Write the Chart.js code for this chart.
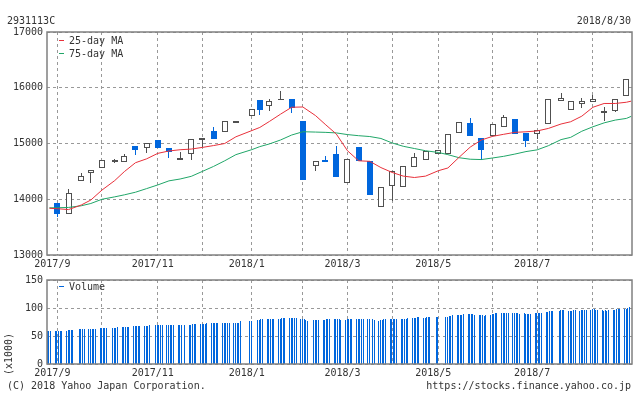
<!DOCTYPE html>
<html><head><meta charset="utf-8">
<script src="https://cdn.jsdelivr.net/npm/chart.js@4.4.0/dist/chart.umd.min.js"></script>
<style>
html,body{margin:0;padding:0;background:#fff;overflow:hidden;}
#wrap{position:relative;width:634px;height:394px;overflow:hidden;font-family:"DejaVu Sans Mono",monospace;font-size:10px;color:#333;}
.t{position:absolute;line-height:12px;white-space:nowrap;}
.sw{position:absolute;width:5px;height:1px;}
canvas{position:absolute;left:0;}
</style></head><body>
<div id="wrap">
<canvas id="main" width="634" height="275" style="top:0;width:634px;height:275px"></canvas>
<canvas id="vol" width="634" height="110" style="top:270px;width:634px;height:110px"></canvas>
<div class="t" style="left:7px;top:15px">2931113C</div>
<div class="t" style="right:3px;top:15px">2018/8/30</div>
<div class="sw" style="left:59px;top:40px;background:rgb(232,48,58)"></div>
<div class="t" style="left:69px;top:35px">25-day MA</div>
<div class="sw" style="left:59px;top:53px;background:rgb(32,166,104)"></div>
<div class="t" style="left:69px;top:48px">75-day MA</div>
<div class="sw" style="left:59px;top:286px;background:#0066dd"></div>
<div class="t" style="left:69px;top:281px">Volume</div>
<div class="t" style="left:9px;top:354px;transform:translate(-50%,-50%) rotate(-90deg)">(x1000)</div>
<div class="t" style="left:7px;top:380px">(C) 2018 Yahoo Japan Corporation.</div>
<div class="t" style="right:3px;top:380px">https://stocks.finance.yahoo.co.jp</div>
</div>
<script>
// ---- weekly candles ----
const candleDates = ['2017-09-04','2017-09-11','2017-09-19','2017-09-25','2017-10-02','2017-10-10','2017-10-16','2017-10-23','2017-10-30','2017-11-06','2017-11-13','2017-11-20','2017-11-27','2017-12-04','2017-12-11','2017-12-18','2017-12-25','2018-01-04','2018-01-09','2018-01-15','2018-01-22','2018-01-29','2018-02-05','2018-02-13','2018-02-19','2018-02-26','2018-03-05','2018-03-12','2018-03-19','2018-03-26','2018-04-02','2018-04-09','2018-04-16','2018-04-23','2018-05-01','2018-05-07','2018-05-14','2018-05-21','2018-05-28','2018-06-04','2018-06-11','2018-06-18','2018-06-25','2018-07-02','2018-07-09','2018-07-17','2018-07-23','2018-07-30','2018-08-06','2018-08-13','2018-08-20','2018-08-27'];
const openP  = [13930,13730,14334,14476,14565,14675,14672,14962,14921,15063, 14927,14707,14814,15063,15229,15205,15366,15490,15781,15668, 15778,15798,15407,14601,14713,14820,14298,14944,14678,13853, 14245,14227,14583,14707,14814,14814,15191,15359,15107,15137, 15299,15431,15197,15173,15353,15766,15605,15712,15748,15550, 15581,15856];
const closeP = [13740,14120,14423,14517,14707,14700,14778,14879,15010,14915, 14850,14743,15081,15099,15075,15401,15407,15620,15597,15757, 15800,15638,14346,14695,14666,14399,14725,14678,14079,14227, 14500,14601,14761,14867,14886,15173,15389,15131,14880,15353, 15479,15167,15042,15245,15802,15820,15766,15766,15790,15575, 15802,16162];
const highP  = [13930,14180,14476,14517,14707,14720,14820,14962,15010,15063, 14927,14855,15081,15099,15288,15401,15407,15620,15781,15798, 15941,15798,15407,14695,14784,14962,14725,14944,14678,14227, 14500,14601,14838,14867,14886,15173,15389,15449,15107,15353, 15503,15431,15197,15245,15802,15904,15766,15820,15874,15653, 15802,16162];
const lowP   = [13690,13730,14334,14292,14565,14648,14672,14802,14826,14915, 14737,14707,14707,14933,15075,15205,15366,15490,15520,15591, 15778,15555,14346,14512,14666,14399,14298,14678,14079,13853, 13960,14227,14583,14707,14814,14814,15191,15131,14706,15137, 15299,15167,14934,15084,15353,15766,15605,15641,15748,15401, 15560,15856];
// ---- moving averages (sampled at start, each candle, end) ----
const maStart = '2017-08-30', maEnd = '2018-08-30';
const ma25 = [13838, 13830,13815,13897,13986,14165,14335,14495,14655,14725,14823, 14866,14888,14900,14930,14963,15000,15120,15232,15288,15395, 15526,15650,15655,15500,15345,15170,14870,14690,14680,14568, 14481,14415,14390,14415,14512,14561,14752,14935,15063,15128, 15165,15200,15210,15225,15270,15350,15390,15490,15650,15718, 15718,15740, 15760];
const ma75 = [13847, 13847,13853,13883,13924,14000,14043,14079,14126,14191,14257, 14330,14363,14411,14500,14589,14690,14800,14890,14944,14992, 15063,15152,15211,15205,15200,15190,15160,15140,15125,15090, 15010,14950,14910,14870,14839,14800,14745,14718,14712,14740, 14770,14810,14855,14886,14960,15070,15110,15220,15300,15370, 15420,15450, 15487];
// ---- daily volume (x1000), grouped by week of trading days ----
const holidays = ['2017-09-18','2017-10-09','2017-11-03','2017-11-23','2018-01-01','2018-01-02','2018-01-03','2018-01-08','2018-02-12','2018-03-21','2018-04-30','2018-05-03','2018-05-04','2018-07-16'];
const volumeByWeek = [
 [59,59,59],[59,59,59,59,59],[59,60.5,60.5,60.5,60.5],[62,62,62,62],[62,62,62,62,62],
 [64,64,64,64,64],[64,64,64,66],[66,66,66,66,66],[67.5,67.5,67.5,67.5,67.5],[67.5,67.5,67.5,69],
 [69,69,69,69,69],[69,69,69,69,69],[69,69,69,69],[69,69,71,71,71],[71,71,71,71,72.5],
 [72.5,72.5,72.5,72.5,72.5],[72.5,74,74,74,74],[74,74,74,74,76],[76,76],[78,78,79.5,79.5],
 [79.5,79.5,81,81,81],[81,81,83,83,83],[83,83,83,83,83],[81,81,79.5,78,76],[78,78,78,78],
 [78,78,79.5,79.5,79.5],[79.5,81,81,79.5,78],[78,79.5,79.5,79.5,81],[81,81,81,81,81],[81,79.5,79.5,78],
 [76,78,78,79.5,79.5],[79.5,79.5,81,81,81],[79.5,79.5,81,81,83],[83,83,83,84.8,84.8],[83,83,84.8,84.8,84.8],
 [84.8,84.8],[84.8,84.8,86.5,86.5,88.3],[88.3,88.3,88.3,88.3,90],[90,90,90,90,88.3],[88.3,88.3,88.3,86.5,88.3],
 [88.3,90,90,91.7,91.7],[91.7,91.7,91.7,91.7,91.7],[91.7,91.7,91.7,91.7,90],[91.7,90,90,90,90],[91.7,91.7,91.7,91.7,91.7],
 [93.5,93.5,95.2,95.2,95.2],[95,97,97,97],[95,95,95,97,97],[95,97,97,97,97],[97,98.7,98.7,97,97],
 [97,95,97,95,97],[97,97,98.7,98.7,98.7],[98.7,98.7,100,102]
];
const xTickLabels = ['2017/9','','2017/11','','2018/1','','2018/3','','2018/5','','2018/7',''];

// ---- helpers ----
const BASE = Date.UTC(2017,8,4);
function dayNum(s){const p=s.split('-').map(Number);return (Date.UTC(p[0],p[1]-1,p[2])-BASE)/864e5;}
const maDates = [maStart].concat(candleDates,[maEnd]);
const monthTicks = [];
candleDates.forEach((d,i)=>{ if(i===0 || d.slice(0,7)!==candleDates[i-1].slice(0,7)) monthTicks.push(dayNum(d)); });
const tradingDays = [];
for(let t=Date.UTC(2017,7,30); t<=Date.UTC(2018,7,30); t+=864e5){
  const dt=new Date(t), wd=dt.getUTCDay(); if(wd===0||wd===6) continue;
  const s=dt.toISOString().slice(0,10); if(holidays.includes(s)) continue;
  tradingDays.push((t-BASE)/864e5);
}
const volume = volumeByWeek.flat();

const FONT = {family:'"DejaVu Sans Mono", monospace', size:10};
const TXT = '#333', GRID = '#999', BLUE = '#0066dd', DARK = '#505050';
const RED = 'rgb(232,48,58)', GREEN = 'rgb(32,166,104)';
const up = closeP.map((c,i)=>c>=openP[i]);
const frame = {id:'frame', afterDraw(c){const a=c.chartArea, ctx=c.ctx; ctx.save(); ctx.strokeStyle='#808080'; ctx.lineWidth=1.5; ctx.strokeRect(a.left,a.top,a.right-a.left,a.bottom-a.top); ctx.restore();}};
// snap bar elements (computed by the scales) to whole pixels for crisp rendering
const snap = {id:'snap', beforeDatasetsDraw(c){
  c.data.datasets.forEach((ds,i)=>{
    const m=c.getDatasetMeta(i); if(m.type!=='bar') return;
    const odd = (ds.barThickness % 2) === 1;
    m.data.forEach(el=>{
      el.x = odd ? Math.floor(el.x)+0.5 : Math.round(el.x);
      let y=Math.round(el.y), b=Math.round(el.base);
      if(y===b) b = y+1;
      el.y=y; el.base=b; el.height=b-y;
    });
  });
}};

function xAxis(h){
  return {type:'linear', min:-6.5, max:360.5, offset:false,
    afterBuildTicks:s=>{s.ticks=monthTicks.map(v=>({value:v}));},
    afterFit:s=>{s.height=h;},
    ticks:{autoSkip:false, maxRotation:0, minRotation:0, padding:3, labelOffset:-5, color:TXT, font:FONT, callback:(v,i)=>xTickLabels[i]||''},
    grid:{color:GRID, lineWidth:1, drawTicks:false, offset:false},
    border:{display:false, dash:[3,3]}};
}
function yAxis(min,max,step){
  return {min:min, max:max, afterFit:s=>{s.width=47;},
    ticks:{stepSize:step, padding:4, color:TXT, font:FONT, callback:v=>String(v)},
    grid:{color:GRID, lineWidth:1, drawTicks:false},
    border:{display:false, dash:[3,3]}};
}

new Chart(document.getElementById('main'), {
  type:'bar',
  data:{datasets:[
    {type:'line', label:'25-day MA', data:maDates.map((d,i)=>({x:dayNum(d),y:ma25[i]})), borderColor:RED, borderWidth:1, pointRadius:0, tension:0, order:0},
    {type:'line', label:'75-day MA', data:maDates.map((d,i)=>({x:dayNum(d),y:ma75[i]})), borderColor:GREEN, borderWidth:1, pointRadius:0, tension:0, order:1},
    {label:'body', data:candleDates.map((d,i)=>({x:dayNum(d),y:[openP[i],closeP[i]]})), backgroundColor:up.map(u=>u?'#fff':BLUE), borderColor:up.map(u=>u?DARK:BLUE), borderWidth:1, borderSkipped:false, inflateAmount:0, barThickness:6, grouped:false, order:2},
    {label:'wick', data:candleDates.map((d,i)=>({x:dayNum(d),y:[lowP[i],highP[i]]})), backgroundColor:up.map(u=>u?DARK:BLUE), borderWidth:0, inflateAmount:0, barThickness:1, grouped:false, order:3}
  ]},
  options:{responsive:false, animation:false, devicePixelRatio:1,
    layout:{padding:{left:0,right:2,top:32,bottom:0}},
    plugins:{legend:{display:false}, tooltip:{enabled:false}},
    scales:{x:xAxis(20), y:yAxis(13000,17000,1000)}},
  plugins:[snap, frame]
});

new Chart(document.getElementById('vol'), {
  type:'bar',
  data:{datasets:[
    {label:'Volume', xAxisID:'xv', data:tradingDays.slice(0,volume.length).map((d,i)=>({x:d,y:volume[i]})), backgroundColor:BLUE, borderWidth:0, inflateAmount:0, barThickness:1, grouped:false}
  ]},
  options:{responsive:false, animation:false, devicePixelRatio:1,
    layout:{padding:{left:0,right:2,top:7,bottom:0}},
    plugins:{legend:{display:false}, tooltip:{enabled:false}},
    scales:{x:xAxis(16),
      xv:{type:'linear', axis:'x', position:'bottom', display:false, min:-5.25, max:361.75, offset:false, grid:{offset:false}},
      y:yAxis(0,150,50)}},
  plugins:[snap, frame]
});
</script>
</body></html>
